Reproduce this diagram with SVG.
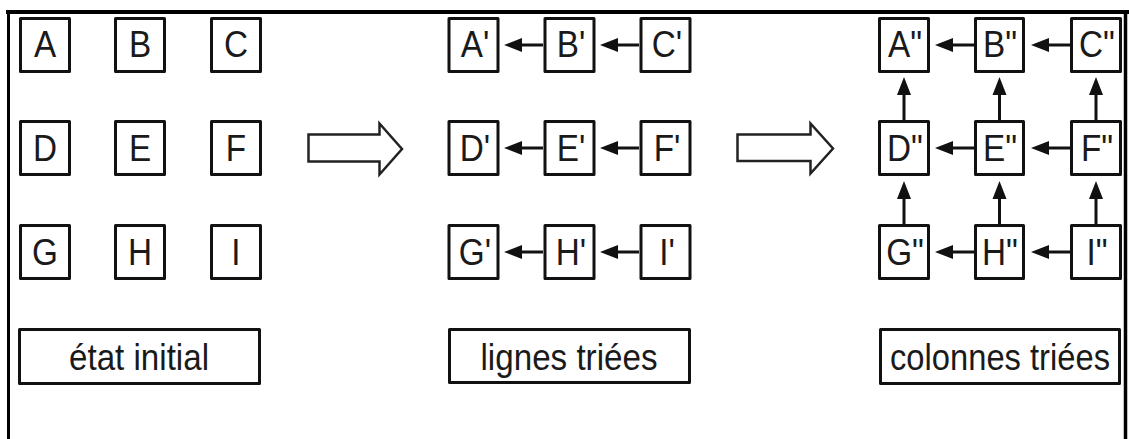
<svg xmlns="http://www.w3.org/2000/svg" width="1129" height="439" viewBox="0 0 1129 439">
<style>
.box{fill:#fff;stroke:#111;stroke-width:3;stroke-linejoin:round}
.t{font-family:"Liberation Sans",Arial,sans-serif;font-size:37px;fill:#1a1a1a;text-anchor:middle}
.c{stroke:#111;stroke-width:3;fill:none}
.big{fill:#fff;stroke:#222;stroke-width:2.5;stroke-linejoin:miter}
.frame{stroke:#000;fill:none}
</style>
<defs>
<marker id="ah" markerUnits="userSpaceOnUse" markerWidth="20" markerHeight="16" viewBox="0 -8 20 16" refX="0" refY="0" orient="auto">
<path d="M0,-7 L18,0 L0,7 Z" fill="#111"/>
</marker>
</defs>
<rect width="1129" height="439" fill="#fff"/>
<g id="frame">
<line class="frame" x1="6" y1="12" x2="1129" y2="12" stroke-width="4"/>
<line class="frame" x1="8.5" y1="10" x2="8.5" y2="439" stroke-width="3"/>
<line class="frame" x1="1125.5" y1="10" x2="1125.5" y2="439" stroke-width="3.5"/>
</g>
<g id="transitions">
<path class="big" d="M308.5,134.5 H379.5 V123.5 L402,149 L379.5,174.5 V161.5 H308.5 Z"/>
<path class="big" d="M737.5,134.5 H810.5 V123.5 L833,148.5 L810.5,173.5 V161 H737.5 Z"/>
</g>
<g id="connectors">
<line class="c" x1="543" y1="45" x2="522" y2="45" marker-end="url(#ah)"/>
<line class="c" x1="639" y1="45" x2="618" y2="45" marker-end="url(#ah)"/>
<line class="c" x1="543" y1="148" x2="522" y2="148" marker-end="url(#ah)"/>
<line class="c" x1="639" y1="148" x2="618" y2="148" marker-end="url(#ah)"/>
<line class="c" x1="543" y1="252" x2="522" y2="252" marker-end="url(#ah)"/>
<line class="c" x1="639" y1="252" x2="618" y2="252" marker-end="url(#ah)"/>
<line class="c" x1="974" y1="45" x2="953" y2="45" marker-end="url(#ah)"/>
<line class="c" x1="1070" y1="45" x2="1049" y2="45" marker-end="url(#ah)"/>
<line class="c" x1="974" y1="148" x2="953" y2="148" marker-end="url(#ah)"/>
<line class="c" x1="1070" y1="148" x2="1049" y2="148" marker-end="url(#ah)"/>
<line class="c" x1="974" y1="252" x2="953" y2="252" marker-end="url(#ah)"/>
<line class="c" x1="1070" y1="252" x2="1049" y2="252" marker-end="url(#ah)"/>
<line class="c" x1="904" y1="120" x2="904" y2="95" marker-end="url(#ah)"/>
<line class="c" x1="999.5" y1="120" x2="999.5" y2="95" marker-end="url(#ah)"/>
<line class="c" x1="1096" y1="120" x2="1096" y2="95" marker-end="url(#ah)"/>
<line class="c" x1="904" y1="224" x2="904" y2="199" marker-end="url(#ah)"/>
<line class="c" x1="999.5" y1="224" x2="999.5" y2="199" marker-end="url(#ah)"/>
<line class="c" x1="1096" y1="224" x2="1096" y2="199" marker-end="url(#ah)"/>
</g>
<g id="n-A"><rect class="box" x="20.5" y="18.5" width="49" height="53"/><text class="t" transform="translate(45,57) scale(0.9,1)">A</text></g>
<g id="n-B"><rect class="box" x="115.5" y="18.5" width="49" height="53"/><text class="t" transform="translate(140,57) scale(0.9,1)">B</text></g>
<g id="n-C"><rect class="box" x="211.5" y="18.5" width="49" height="53"/><text class="t" transform="translate(236,57) scale(0.9,1)">C</text></g>
<g id="n-D"><rect class="box" x="20.5" y="121.5" width="49" height="53"/><text class="t" transform="translate(45,161) scale(0.9,1)">D</text></g>
<g id="n-E"><rect class="box" x="115.5" y="121.5" width="49" height="53"/><text class="t" transform="translate(140,161) scale(0.9,1)">E</text></g>
<g id="n-F"><rect class="box" x="211.5" y="121.5" width="49" height="53"/><text class="t" transform="translate(236,161) scale(0.9,1)">F</text></g>
<g id="n-G"><rect class="box" x="20.5" y="225.5" width="49" height="53"/><text class="t" transform="translate(45,265) scale(0.9,1)">G</text></g>
<g id="n-H"><rect class="box" x="115.5" y="225.5" width="49" height="53"/><text class="t" transform="translate(140,265) scale(0.9,1)">H</text></g>
<g id="n-I"><rect class="box" x="211.5" y="225.5" width="49" height="53"/><text class="t" transform="translate(236,265) scale(0.9,1)">I</text></g>
<g id="n-A1"><rect class="box" x="449" y="18.5" width="49" height="53"/><text class="t" transform="translate(475,57) scale(0.9,1)">A'</text></g>
<g id="n-B1"><rect class="box" x="545" y="18.5" width="49" height="53"/><text class="t" transform="translate(571,57) scale(0.9,1)">B'</text></g>
<g id="n-C1"><rect class="box" x="641" y="18.5" width="49" height="53"/><text class="t" transform="translate(667,57) scale(0.9,1)">C'</text></g>
<g id="n-D1"><rect class="box" x="449" y="121.5" width="49" height="53"/><text class="t" transform="translate(475,161) scale(0.9,1)">D'</text></g>
<g id="n-E1"><rect class="box" x="545" y="121.5" width="49" height="53"/><text class="t" transform="translate(571,161) scale(0.9,1)">E'</text></g>
<g id="n-F1"><rect class="box" x="641" y="121.5" width="49" height="53"/><text class="t" transform="translate(667,161) scale(0.9,1)">F'</text></g>
<g id="n-G1"><rect class="box" x="449" y="225.5" width="49" height="53"/><text class="t" transform="translate(475,265) scale(0.9,1)">G'</text></g>
<g id="n-H1"><rect class="box" x="545" y="225.5" width="49" height="53"/><text class="t" transform="translate(571,265) scale(0.9,1)">H'</text></g>
<g id="n-I1"><rect class="box" x="641" y="225.5" width="49" height="53"/><text class="t" transform="translate(667,265) scale(0.9,1)">I'</text></g>
<g id="n-A2"><rect class="box" x="879.5" y="18.5" width="49" height="53"/><text class="t" transform="translate(905,57) scale(0.9,1)">A"</text></g>
<g id="n-B2"><rect class="box" x="975.5" y="18.5" width="48" height="53"/><text class="t" transform="translate(1000,57) scale(0.9,1)">B"</text></g>
<g id="n-C2"><rect class="box" x="1071.5" y="18.5" width="49" height="53"/><text class="t" transform="translate(1097,57) scale(0.9,1)">C"</text></g>
<g id="n-D2"><rect class="box" x="879.5" y="121.5" width="49" height="53"/><text class="t" transform="translate(905,161) scale(0.9,1)">D"</text></g>
<g id="n-E2"><rect class="box" x="975.5" y="121.5" width="48" height="53"/><text class="t" transform="translate(1000,161) scale(0.9,1)">E"</text></g>
<g id="n-F2"><rect class="box" x="1071.5" y="121.5" width="49" height="53"/><text class="t" transform="translate(1097,161) scale(0.9,1)">F"</text></g>
<g id="n-G2"><rect class="box" x="879.5" y="225.5" width="49" height="53"/><text class="t" transform="translate(905,265) scale(0.9,1)">G"</text></g>
<g id="n-H2"><rect class="box" x="975.5" y="225.5" width="48" height="53"/><text class="t" transform="translate(1000,265) scale(0.9,1)">H"</text></g>
<g id="n-I2"><rect class="box" x="1071.5" y="225.5" width="49" height="53"/><text class="t" transform="translate(1097,265) scale(0.9,1)">I"</text></g>
<g id="lbl-initial"><rect class="box" x="19.5" y="329.5" width="240" height="54"/><text class="t" x="139" y="370" textLength="140" lengthAdjust="spacingAndGlyphs">état initial</text></g>
<g id="lbl-lignes"><rect class="box" x="449.5" y="329.5" width="240" height="53"/><text class="t" x="569" y="370" textLength="177" lengthAdjust="spacingAndGlyphs">lignes triées</text></g>
<g id="lbl-colonnes"><rect class="box" x="880.5" y="329.5" width="239" height="54"/><text class="t" x="1000" y="370" textLength="220" lengthAdjust="spacingAndGlyphs">colonnes triées</text></g>
</svg>
